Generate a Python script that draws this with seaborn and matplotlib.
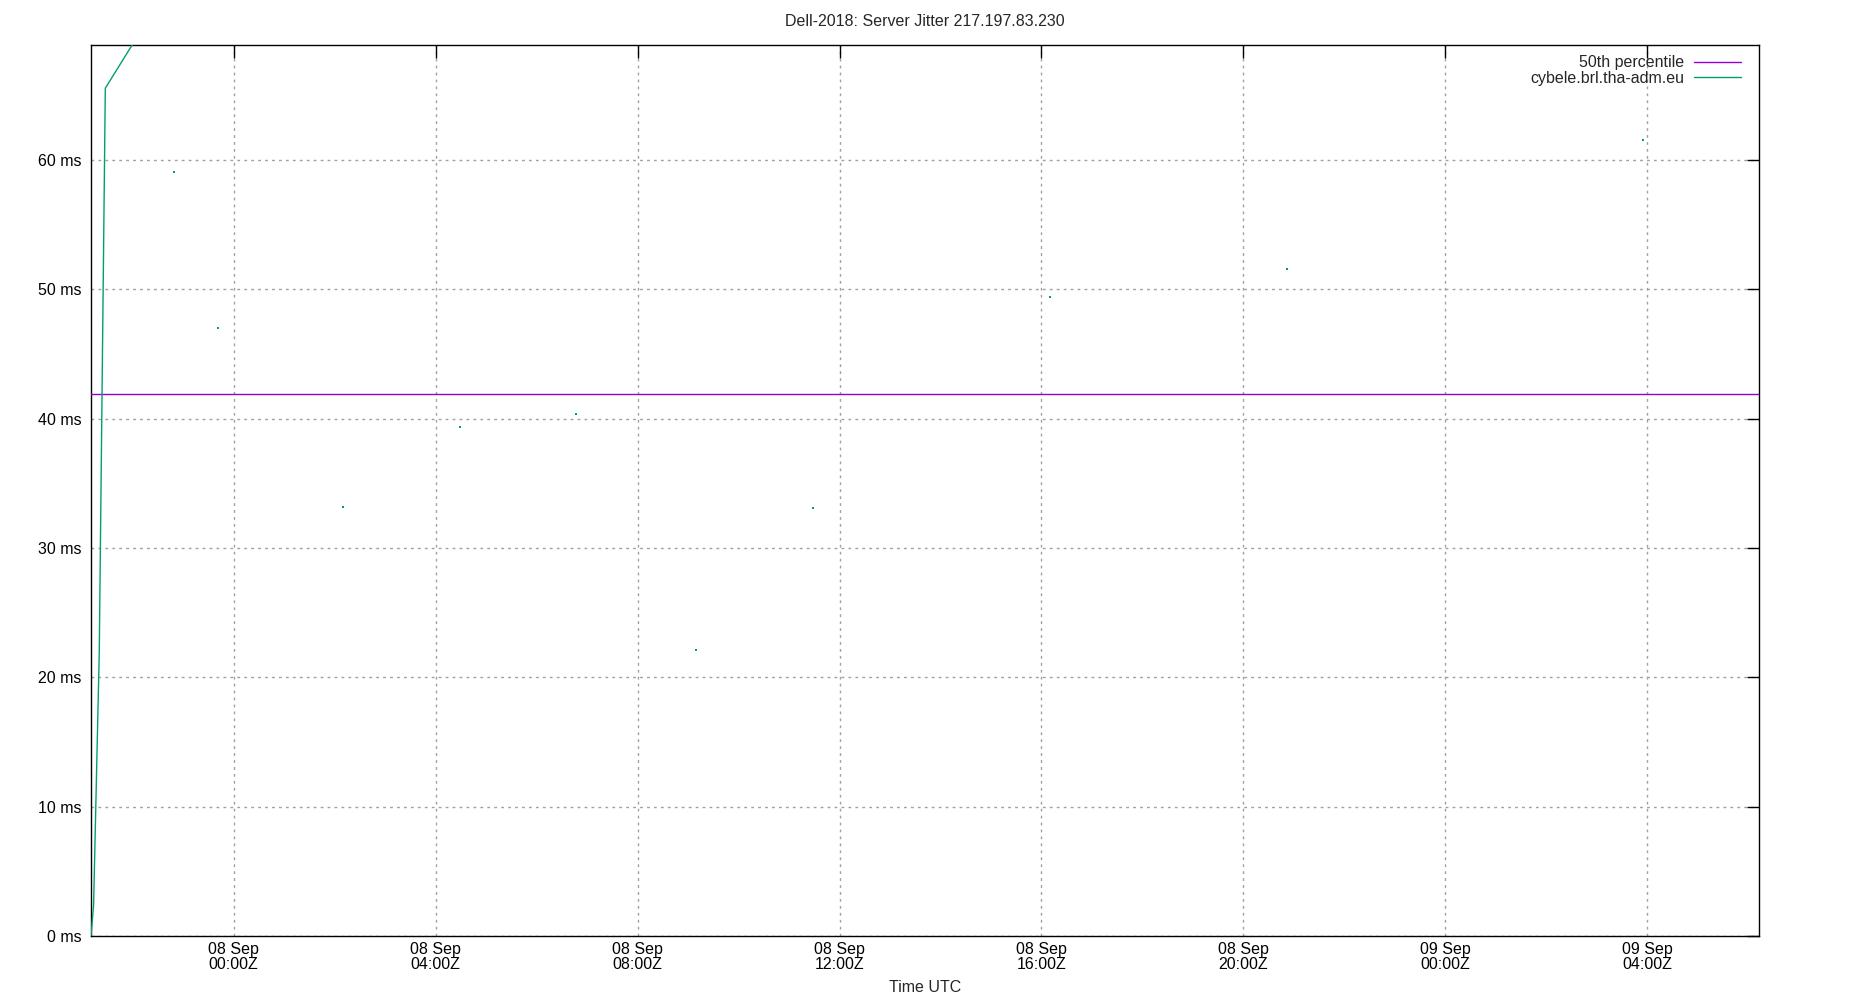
import matplotlib
matplotlib.use("Agg")
import matplotlib.pyplot as plt
import matplotlib.dates as mdates
import pandas as pd
import seaborn as sns

# dati
line_times = ["2018-09-07 21:10:35", "2018-09-07 21:13:40", "2018-09-07 21:20:25",
              "2018-09-07 21:27:35", "2018-09-07 22:30:00"]
line_ms = [0.0, 2.4, 22.0, 65.56, 72.1]

dot_times = ["2018-09-07 22:48:45", "2018-09-07 23:41:00", "2018-09-08 02:09:30",
             "2018-09-08 04:28:30", "2018-09-08 06:47:25", "2018-09-08 09:09:00",
             "2018-09-08 11:28:10", "2018-09-08 16:09:35", "2018-09-08 20:52:10",
             "2018-09-09 03:55:10"]
dot_ms = [59.06, 47.0, 33.15, 39.34, 40.35, 22.1, 33.08, 49.4, 51.56, 61.54]

p50_ms = 41.9
x_range = ["2018-09-07 21:10:35", "2018-09-09 06:12:35"]
y_ticks = [0, 10, 20, 30, 40, 50, 60]
y_top = 68.9

host = "cybele.brl.tha-adm.eu"
green = "#009e73"
purple = "#9400d3"

sns.set_style("white")
plt.rcParams["font.family"] = ["Liberation Sans", "DejaVu Sans"]
plt.rcParams["font.size"] = 11.5

df_line = pd.DataFrame({"t": pd.to_datetime(line_times), "ms": line_ms})
df_dots = pd.DataFrame({"t": pd.to_datetime(dot_times), "ms": dot_ms})

fig, ax = plt.subplots(figsize=(18.5, 10), dpi=100)
fig.subplots_adjust(left=91/1850, right=1759/1850, top=1-45/1000, bottom=1-936/1000)

ax.axhline(p50_ms, color=purple, lw=1, label="50th percentile", zorder=3)
sns.lineplot(data=df_line, x="t", y="ms", ax=ax, color=green, lw=1, label=host, zorder=4)
sns.scatterplot(data=df_dots, x="t", y="ms", ax=ax, color=green, s=3, marker="s",
                linewidth=0, legend=False, zorder=4)

ax.set_xlim(pd.to_datetime(x_range[0]), pd.to_datetime(x_range[1]))
ax.set_ylim(0, y_top)
ax.set_yticks(y_ticks)
ax.set_yticklabels([f"{v} ms" for v in y_ticks])
ax.xaxis.set_major_locator(mdates.HourLocator(byhour=range(0, 24, 4)))
ax.xaxis.set_major_formatter(mdates.DateFormatter("%d %b\n%H:%MZ"))

ax.grid(True, color="#a0a0a0", lw=1, linestyle=(0, (2, 3)))
ax.tick_params(direction="in", length=9, width=1, top=True, right=True,
               labelsize=11.5, colors="black")
ax.tick_params(axis="x", pad=4)
ax.tick_params(axis="y", pad=7)
for lab in ax.get_xticklabels():
    lab.set_linespacing(1.0)
for s in ax.spines.values():
    s.set_color("black")
    s.set_linewidth(1)

ax.set_xlabel("Time UTC", fontsize=11.5, labelpad=6)
ax.set_ylabel("")
ax.set_title("Dell-2018: Server Jitter 217.197.83.230", fontsize=11.5, pad=14)

ax.legend(loc="upper right", bbox_to_anchor=(1741/1850, 1-55.5/1000),
          bbox_transform=fig.transFigure, markerfirst=False, frameon=False,
          handlelength=2.95, handletextpad=0.6, labelspacing=0.0,
          borderaxespad=0, borderpad=0, fontsize=11.5)

plt.savefig("out.png")
